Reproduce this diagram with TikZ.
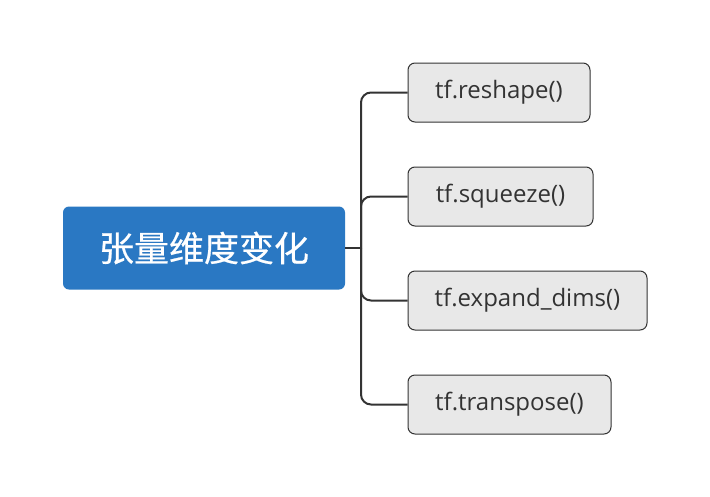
\documentclass[tikz,border=0pt]{standalone}
\usepackage{fontspec}
\setmainfont{Open Sans}
\newfontfamily\cjk[FakeBold=0.6]{Noto Sans CJK SC}
\definecolor{rootblue}{HTML}{2A78C3}
\definecolor{leafgray}{HTML}{E8E8E8}
\definecolor{linecol}{HTML}{333333}
\begin{document}
\begin{tikzpicture}[x=1pt,y=-1pt,
  rootbox/.style={fill=rootblue,draw=none,rounded corners=6pt,minimum width=282pt,minimum height=83pt,inner sep=0pt,text=white,font=\cjk\fontsize{35}{40}\selectfont},
  leafbox/.style={fill=leafgray,draw=linecol,line width=1pt,rounded corners=7pt,minimum height=59pt,inner sep=0pt,text=linecol,font=\fontsize{24}{28}\selectfont},
  conn/.style={draw=linecol,line width=2pt,rounded corners=10pt}]
\useasboundingbox (0,0) rectangle (710,496);
\fill[white] (0,0) rectangle (710,496);
\node[rootbox] (root) at (204,248) {张量维度变化};
\node[leafbox,minimum width=182pt] (a) at (499,92.5) {tf.reshape()};
\node[leafbox,minimum width=185pt] (b) at (500.5,196.5) {tf.squeeze()};
\node[leafbox,minimum width=239pt] (c) at (527.5,300.5) {tf.expand\_dims()};
\node[leafbox,minimum width=203pt] (d) at (509.5,404.5) {tf.transpose()};
\coordinate (j) at (361,248);
\draw[draw=linecol,line width=2pt] (root.east) -- (j);
\foreach \n in {a,b,c,d}{\draw[conn] (j) |- (\n.west);}
\end{tikzpicture}
\end{document}
